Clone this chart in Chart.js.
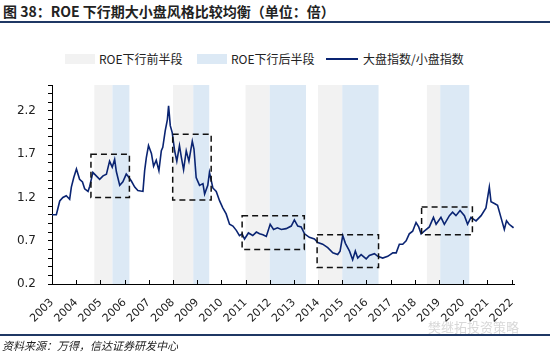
<!DOCTYPE html>
<html>
<head>
<meta charset="utf-8">
<script src="https://cdn.jsdelivr.net/npm/chart.js@4.4.0/dist/chart.umd.min.js"></script>
<style>
  body { margin: 0; width: 550px; height: 353px; background: #fff; position: relative; overflow: hidden; font-family: "Noto Sans CJK SC", sans-serif; }
  #title { position: absolute; left: 3px; top: 1px; font-size: 14px; font-weight: bold; color: #222; white-space: nowrap; }
  #topline { position: absolute; left: 0; top: 21px; width: 550px; height: 2px; background: #1f3864; }
  #legend { position: absolute; top: 50px; left: 0; width: 550px; height: 16px; font-size: 12px; color: #222; }
  .item { position: absolute; top: 0; display: flex; align-items: center; white-space: nowrap; }
  .box { width: 30px; height: 10px; margin-right: 4px; }
  .ln { width: 32px; height: 2px; background: #0a2472; margin-right: 5px; }
  #botline { position: absolute; left: 0; top: 334px; width: 550px; height: 2px; background: #1f3864; }
  #source { position: absolute; left: 2px; top: 337px; font-size: 11px; font-style: italic; color: #222; white-space: nowrap; }
  #mark { position: absolute; left: 428px; top: 317px; font-size: 13px; color: #d8d8d8; white-space: nowrap; }
  #c { position: absolute; left: 0; top: 0; }
</style>
</head>
<body>
<div id="title">图 38：ROE 下行期大小盘风格比较均衡（单位：倍）</div>
<div id="topline"></div>
<div id="legend">
  <div class="item" style="left:65px"><div class="box" style="background:#f2f2f2"></div>ROE下行前半段</div>
  <div class="item" style="left:197px"><div class="box" style="background:#dce9f5"></div>ROE下行后半段</div>
  <div class="item" style="left:326px"><div class="ln"></div>大盘指数/小盘指数</div>
</div>
<canvas id="c" width="550" height="353"></canvas>
<div id="mark">樊继拓投资策略</div>
<div id="botline"></div>
<div id="source">资料来源：万得，信达证券研发中心</div>
<script>
// 大盘指数/小盘指数
const lineYears = [2003.00, 2003.18, 2003.32, 2003.45, 2003.59, 2003.73, 2003.80, 2003.90, 2004.01, 2004.14,
  2004.26, 2004.35, 2004.49, 2004.56, 2004.69, 2004.83, 2004.97, 2005.11, 2005.25, 2005.38,
  2005.49, 2005.59, 2005.66, 2005.80, 2005.93, 2006.07, 2006.13, 2006.28, 2006.42, 2006.55,
  2006.76, 2006.83, 2006.90, 2006.99, 2007.11, 2007.20, 2007.31, 2007.42, 2007.52, 2007.58,
  2007.68, 2007.77, 2007.82, 2007.89, 2007.97, 2008.07, 2008.16, 2008.27, 2008.35, 2008.44,
  2008.55, 2008.66, 2008.80, 2008.87, 2008.96, 2009.10, 2009.24, 2009.31, 2009.44, 2009.51,
  2009.65, 2009.79, 2009.93, 2010.06, 2010.20, 2010.34, 2010.48, 2010.62, 2010.75, 2010.86,
  2010.96, 2011.12, 2011.30, 2011.45, 2011.58, 2011.72, 2011.86, 2012.02, 2012.16, 2012.32,
  2012.48, 2012.68, 2012.89, 2013.02, 2013.16, 2013.30, 2013.44, 2013.64, 2013.85, 2013.99,
  2014.19, 2014.40, 2014.61, 2014.81, 2014.91, 2015.02, 2015.13, 2015.30, 2015.43, 2015.54,
  2015.64, 2015.78, 2015.99, 2016.12, 2016.33, 2016.47, 2016.67, 2016.88, 2017.09, 2017.23,
  2017.36, 2017.50, 2017.64, 2017.77, 2017.91, 2018.05, 2018.16, 2018.26, 2018.39, 2018.60,
  2018.77, 2018.88, 2019.08, 2019.22, 2019.43, 2019.56, 2019.70, 2019.87, 2020.05, 2020.18,
  2020.32, 2020.53, 2020.74, 2020.94, 2021.08, 2021.15, 2021.29, 2021.42, 2021.56, 2021.70,
  2021.79, 2021.90, 2022.08];
const lineValues = [1.00, 1.00, 1.16, 1.20, 1.22, 1.18, 1.32, 1.43, 1.53, 1.41,
  1.38, 1.30, 1.27, 1.33, 1.49, 1.45, 1.41, 1.45, 1.47, 1.62,
  1.55, 1.64, 1.50, 1.34, 1.38, 1.47, 1.45, 1.39, 1.32, 1.28,
  1.27, 1.51, 1.66, 1.80, 1.71, 1.56, 1.63, 1.51, 1.74, 1.78,
  1.97, 2.10, 2.26, 2.03, 1.95, 1.74, 1.62, 1.80, 1.66, 1.52,
  1.74, 1.62, 1.85, 1.76, 1.43, 1.34, 1.36, 1.24, 1.34, 1.49,
  1.31, 1.27, 1.16, 1.08, 1.01, 0.89, 0.87, 0.82, 0.76, 0.78,
  0.72, 0.79, 0.76, 0.80, 0.78, 0.77, 0.75, 0.89, 0.83, 0.85,
  0.83, 0.84, 0.87, 0.94, 0.87, 0.86, 0.78, 0.74, 0.72, 0.68,
  0.66, 0.62, 0.56, 0.54, 0.58, 0.76, 0.67, 0.58, 0.48, 0.58,
  0.50, 0.54, 0.49, 0.53, 0.55, 0.52, 0.50, 0.52, 0.56, 0.56,
  0.66, 0.66, 0.70, 0.78, 0.81, 0.91, 0.86, 0.78, 0.81, 0.86,
  0.97, 0.89, 0.97, 0.89, 0.99, 1.03, 0.99, 1.05, 0.99, 0.89,
  0.97, 0.93, 0.99, 1.08, 1.32, 1.15, 1.13, 1.11, 0.97, 0.83,
  0.93, 0.89, 0.85];

// ROE 下行期：前半段 [frontStart, frontEnd]，后半段 [frontEnd, backEnd]
const frontStart = [2004.75, 2008.0, 2011.0, 2014.0, 2018.5];
const frontEnd = [2005.5, 2008.84, 2012.0, 2015.0, 2019.05];
const backEnd = [2006.2, 2009.5, 2013.5, 2016.5, 2020.25];

// 虚线框
const boxFrom = [2004.61, 2007.99, 2010.86, 2013.96, 2018.28];
const boxTo = [2006.2, 2009.58, 2013.43, 2016.5, 2020.38];
const boxLow = [1.2, 1.17, 0.6, 0.39, 0.77];
const boxHigh = [1.7, 1.93, 0.99, 0.77, 1.09];

const xTickYears = [2003, 2004, 2005, 2006, 2007, 2008, 2009, 2010, 2011, 2012,
  2013, 2014, 2015, 2016, 2017, 2018, 2019, 2020, 2021, 2022];
const yTickValues = [0.2, 0.3, 0.4, 0.5, 0.6, 0.7, 0.8, 0.9, 1.0, 1.1, 1.2, 1.3, 1.4,
  1.5, 1.6, 1.7, 1.8, 1.9, 2.0, 2.1, 2.2, 2.3, 2.4, 2.5];
const yLabelValues = [0.2, 0.7, 1.2, 1.7, 2.2];

const points = lineYears.map((x, i) => ({ x: x, y: lineValues[i] }));

const extras = {
  id: "extras",
  beforeDatasetsDraw(chart) {
    const { ctx, chartArea, scales } = chart;
    const x = scales.x;
    ctx.save();
    for (let i = 0; i < frontStart.length; i++) {
      const a = x.getPixelForValue(frontStart[i]);
      const b = x.getPixelForValue(frontEnd[i]);
      const c = x.getPixelForValue(backEnd[i]);
      ctx.fillStyle = "#f2f2f2";
      ctx.fillRect(a, chartArea.top, b - a, chartArea.bottom - chartArea.top);
      ctx.fillStyle = "#dce9f5";
      ctx.fillRect(b, chartArea.top, c - b, chartArea.bottom - chartArea.top);
    }
    ctx.restore();
  },
  afterDatasetsDraw(chart) {
    const { ctx, chartArea, scales } = chart;
    const x = scales.x, y = scales.y;
    ctx.save();
    ctx.strokeStyle = "#111";
    ctx.lineWidth = 1.5;
    ctx.setLineDash([6, 4]);
    for (let i = 0; i < boxFrom.length; i++) {
      const x0 = x.getPixelForValue(boxFrom[i]);
      const x1 = x.getPixelForValue(boxTo[i]);
      const y0 = y.getPixelForValue(boxHigh[i]);
      const y1 = y.getPixelForValue(boxLow[i]);
      ctx.strokeRect(x0, y0, x1 - x0, y1 - y0);
    }
    ctx.setLineDash([]);
    // x-axis ticks pointing up
    ctx.strokeStyle = "#000";
    ctx.lineWidth = 1;
    xTickYears.forEach((yr) => {
      const px = Math.round(x.getPixelForValue(yr)) + 0.5;
      ctx.beginPath();
      ctx.moveTo(px, chartArea.bottom);
      ctx.lineTo(px, chartArea.bottom - 4);
      ctx.stroke();
    });
    ctx.restore();
  },
};

new Chart("c", {
  type: "line",
  data: {
    datasets: [
      {
        label: "大盘指数/小盘指数",
        data: points,
        borderColor: "#0a2472",
        borderWidth: 1.6,
        pointRadius: 0,
        tension: 0,
      },
    ],
  },
  options: {
    responsive: false,
    animation: false,
    layout: { padding: { left: 0, top: 85, right: 36, bottom: 0 } },
    plugins: { legend: { display: false }, tooltip: { enabled: false } },
    scales: {
      x: {
        type: "linear",
        min: 2003,
        max: 2022.1,
        afterBuildTicks: (s) => { s.ticks = xTickYears.map((v) => ({ value: v })); },
        afterFit: (s) => { s.height = 69; },
        grid: { display: false },
        border: { color: "#000", width: 1 },
        ticks: {
          autoSkip: false,
          minRotation: 45,
          maxRotation: 45,
          padding: 4,
          color: "#222",
          font: { size: 11, family: "'DejaVu Sans', sans-serif" },
          callback: (v) => String(v),
        },
      },
      y: {
        min: 0.2,
        max: 2.5,
        afterBuildTicks: (s) => { s.ticks = yTickValues.map((v) => ({ value: v })); },
        afterFit: (s) => { s.width = 52; },
        grid: { drawOnChartArea: false, drawTicks: true, tickLength: 4, color: "#000" },
        border: { color: "#000", width: 1 },
        ticks: {
          autoSkip: false,
          padding: 12,
          color: "#222",
          font: { size: 12, family: "'DejaVu Sans', sans-serif" },
          callback: (v) => (yLabelValues.some((l) => Math.abs(l - v) < 1e-6) ? v.toFixed(1) : ""),
        },
      },
    },
  },
  plugins: [extras],
});
</script>
</body>
</html>
